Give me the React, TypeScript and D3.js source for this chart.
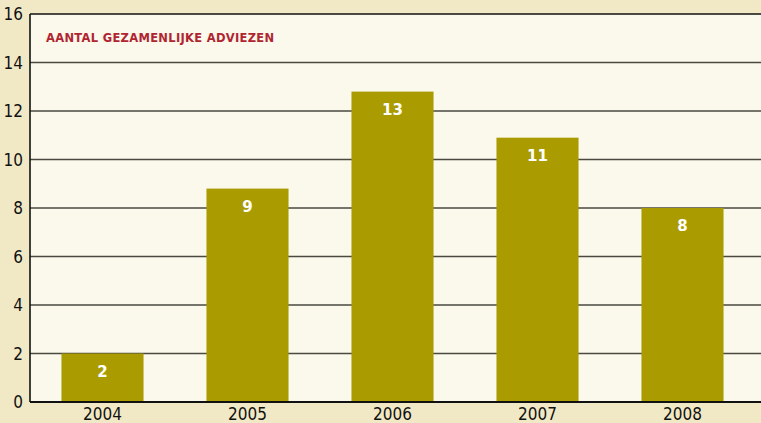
import React from "react";
import * as d3 from "d3";

const years = ["2004", "2005", "2006", "2007", "2008"];
const values = [2.0, 8.8, 12.8, 10.9, 8.0];
const labels = ["2", "9", "13", "11", "8"];
const yTicks = [0, 2, 4, 6, 8, 10, 12, 14, 16];
const title = "AANTAL GEZAMENLIJKE ADVIEZEN";

const W = 761, H = 423;
const left = 30, top = 14, bottom = 402, right = 761;

export default function App() {
  const x = d3.scaleBand<string>().domain(years).range([left, 755]).paddingInner(0.434).paddingOuter(0.217);
  const y = d3.scaleLinear().domain([0, 16]).range([bottom, top]);
  const font = "'Liberation Sans Narrow', 'DejaVu Sans Condensed', 'Roboto Condensed', sans-serif";
  return (
    <div style={{ position: "fixed", left: 0, top: 0 }}>
      <svg width={W} height={H} style={{ display: "block" }}>
        <rect x={0} y={0} width={W} height={H} fill="#f1e9c6" />
        <rect x={left} y={top} width={right - left} height={bottom - top} fill="#fbf8ec" />
        {yTicks.filter(t => t > 0 && t < 16).map(t => (
          <line key={t} x1={left} x2={right} y1={y(t)} y2={y(t)} stroke="#4a4a40" strokeWidth={1.4} />
        ))}
        <line x1={left} x2={right} y1={top} y2={top} stroke="#111" strokeWidth={1.6} />
        {years.map((yr, i) => (
          <rect key={yr} x={x(yr)} y={y(values[i])} width={x.bandwidth()} height={bottom - y(values[i])} fill="#aa9c00" />
        ))}
        {years.map((yr, i) => (
          <text key={yr} x={(x(yr) as number) + x.bandwidth() / 2} y={y(values[i]) + 23} fill="#fff" fontSize={15} fontWeight="bold" textAnchor="middle" fontFamily="'DejaVu Sans', sans-serif">{labels[i]}</text>
        ))}
        <line x1={left} x2={left} y1={top} y2={bottom} stroke="#111" strokeWidth={1.6} />
        <line x1={left} x2={right} y1={bottom} y2={bottom} stroke="#111" strokeWidth={2} />
        {yTicks.map(t => (
          <text key={t} x={23} y={y(t) + 6} fontSize={17} textAnchor="end" fill="#111" fontFamily={font}>{t}</text>
        ))}
        {years.map(yr => (
          <text key={yr} x={(x(yr) as number) + x.bandwidth() / 2} y={420} fontSize={17} textAnchor="middle" fill="#111" fontFamily={font}>{yr}</text>
        ))}
        <text x={46} y={42} fontSize={11.5} fontWeight="bold" fill="#b02530" fontFamily="'DejaVu Sans', sans-serif" letterSpacing={0.3}>{title}</text>
      </svg>
    </div>
  );
}
